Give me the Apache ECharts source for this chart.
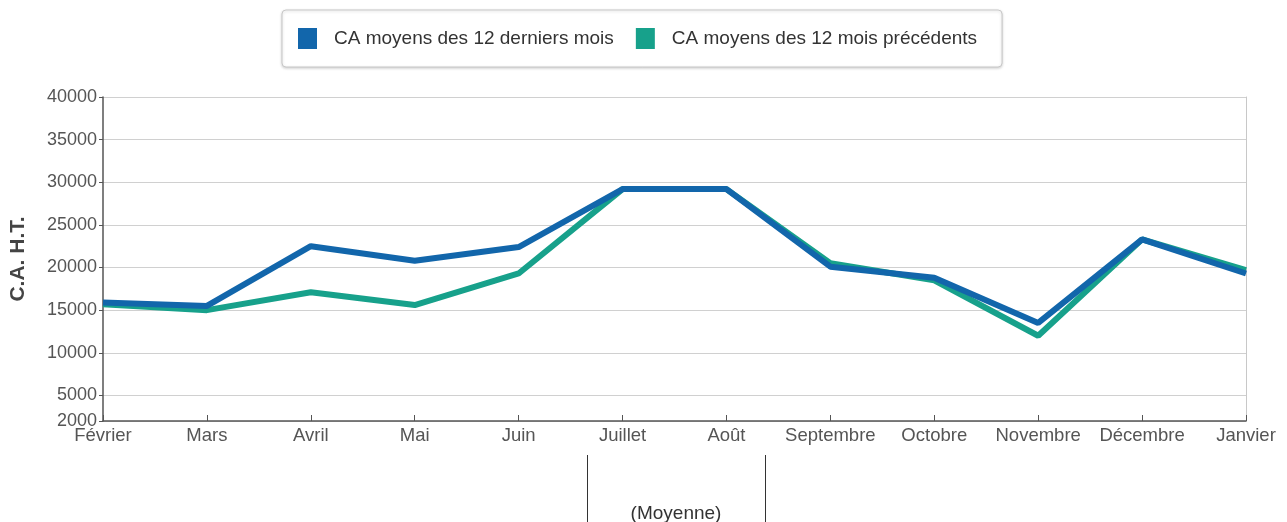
<!DOCTYPE html>
<html>
<head>
<meta charset="utf-8">
<script src="https://cdn.jsdelivr.net/npm/echarts@6/dist/echarts.min.js"></script>
<style>
  html, body { margin: 0; padding: 0; background: #fff; }
  #chart { width: 1287px; height: 522px; }
</style>
</head>
<body>
<div id="chart"></div>
<script>
// mois (février -> janvier)
const months = ['Février', 'Mars', 'Avril', 'Mai', 'Juin', 'Juillet', 'Août',
  'Septembre', 'Octobre', 'Novembre', 'Décembre', 'Janvier'];

// CA moyens des 12 derniers mois
const caDerniers = [15900, 15500, 22500, 20800, 22400, 29200, 29200,
  20100, 18800, 13500, 23300, 19300];

// CA moyens des 12 mois précédents
const caPrecedents = [15700, 15000, 17100, 15600, 19300, 29200, 29200,
  20500, 18500, 12000, 23300, 19700];

const yTicks = [2000, 5000, 10000, 15000, 20000, 25000, 30000, 35000, 40000];

const seriesNames = ['CA moyens des 12 derniers mois', 'CA moyens des 12 mois précédents'];
const blue = '#1266ab';
const green = '#17a18b';
const font = '"Liberation Sans", Arial, sans-serif';

const chart = echarts.init(document.getElementById('chart'), null, { renderer: 'canvas' });

chart.setOption({
  animation: false,
  textStyle: { fontFamily: font },
  legend: {
    data: seriesNames,
    top: 10,
    left: 282,
    icon: 'rect',
    itemWidth: 19,
    itemHeight: 21,
    itemGap: 22,
    padding: [18, 25, 18, 16],
    backgroundColor: '#fff',
    borderColor: '#c8c8c8',
    borderWidth: 1,
    borderRadius: 4,
    shadowBlur: 3,
    shadowColor: 'rgba(0,0,0,0.18)',
    shadowOffsetY: 1,
    textStyle: { fontSize: 19, color: '#333', fontFamily: font, padding: [0, 0, 0, 12] }
  },
  grid: { left: 102, right: 41, top: 97, bottom: 101 },
  xAxis: {
    type: 'category',
    data: months,
    boundaryGap: false,
    axisLine: { lineStyle: { color: '#555', width: 1.5 } },
    axisTick: { alignWithLabel: true, interval: 0, inside: true, length: 6, lineStyle: { color: '#555' } },
    axisLabel: { interval: 0, color: '#555', fontSize: 18.5, margin: 5, fontFamily: font }
  },
  yAxis: [{
    type: 'value',
    min: 2000,
    max: 40000,
    name: 'C.A. H.T.',
    nameLocation: 'middle',
    nameRotate: 90,
    nameGap: 74,
    nameTextStyle: { fontSize: 21, fontWeight: 'bold', color: '#444', fontFamily: font },
    axisLine: { show: true, lineStyle: { color: '#555', width: 1.5 } },
    axisTick: { show: true, length: 4, customValues: yTicks, lineStyle: { color: '#555' } },
    axisLabel: {
      customValues: yTicks,
      formatter: (v) => String(v),
      color: '#555', fontSize: 18, margin: 6, fontFamily: font
    },
    splitLine: { show: true, lineStyle: { color: '#d0d0d0', width: 1.2 } }
  }, {
    type: 'value',
    position: 'right',
    min: 2000,
    max: 40000,
    axisLine: { show: true, lineStyle: { color: '#c8c8c8' } },
    axisTick: { show: false },
    axisLabel: { show: false },
    splitLine: { show: false }
  }],
  series: [{
    name: seriesNames[1],
    type: 'line',
    data: caPrecedents,
    symbol: 'none',
    z: 2,
    lineStyle: { color: green, width: 6 },
    itemStyle: { color: green }
  }, {
    name: seriesNames[0],
    type: 'line',
    data: caDerniers,
    symbol: 'none',
    z: 3,
    lineStyle: { color: blue, width: 6 },
    itemStyle: { color: blue }
  }],
  graphic: [
    { type: 'line', shape: { x1: 587.5, y1: 455, x2: 587.5, y2: 522 }, style: { stroke: '#333', lineWidth: 1 } },
    { type: 'line', shape: { x1: 765.5, y1: 455, x2: 765.5, y2: 522 }, style: { stroke: '#333', lineWidth: 1 } },
    { type: 'text', x: 676, y: 514, style: { text: '(Moyenne)', fontSize: 19, fill: '#333', fontFamily: font, align: 'center', verticalAlign: 'middle' } }
  ]
});
</script>
</body>
</html>
